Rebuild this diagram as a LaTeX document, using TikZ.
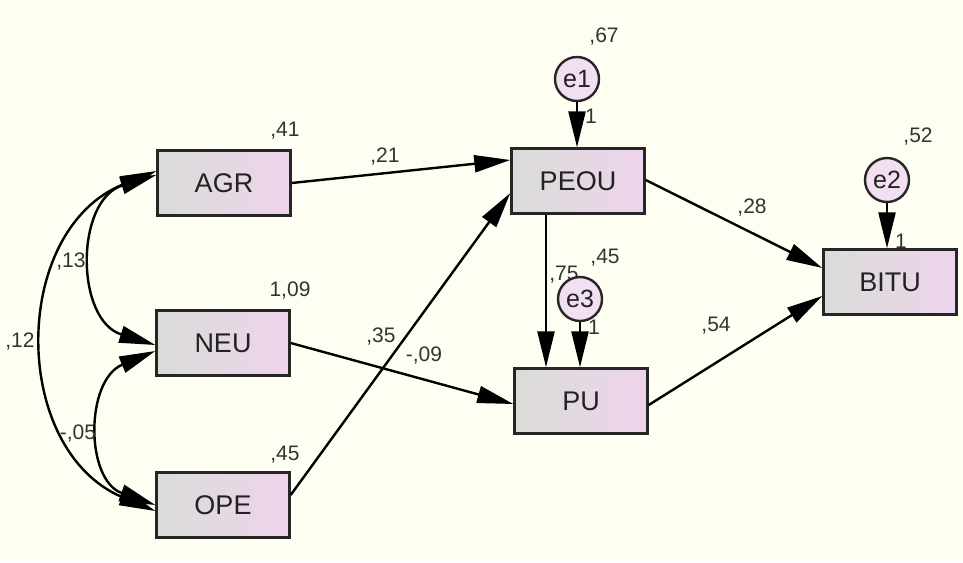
\documentclass[tikz,border=0pt]{standalone}
\usepackage{fontspec}
\setmainfont{Liberation Sans}
\usetikzlibrary{arrows.meta,calc}
\definecolor{bg}{HTML}{FEFEF2}
\definecolor{boxl}{HTML}{DADCD8}
\definecolor{boxr}{HTML}{EED4EC}
\definecolor{txt}{HTML}{222222}
\definecolor{lbl}{HTML}{333333}
\tikzset{
  var/.style={draw=black!85, line width=2.4pt, left color=boxl, right color=boxr, minimum width=133pt, minimum height=65pt, inner sep=0pt, font=\fontsize{27}{27}\selectfont, text=txt},
  err/.style={circle, draw=black!85, line width=2.4pt, fill=boxr!75!white, minimum size=44pt, inner sep=0pt, font=\fontsize{25}{25}\selectfont, text=txt},
  val/.style={font=\fontsize{21}{21}\selectfont, text=lbl, inner sep=0pt},
  path1/.style={line width=2.4pt, black, -{Triangle[length=36pt,width=17pt]}},
  cov/.style={line width=2.4pt, black, {Triangle[length=36pt,width=17pt]}-{Triangle[length=36pt,width=17pt]}}
}
\begin{document}
\begin{tikzpicture}[x=1pt,y=-1pt]
\fill[bg] (0,0) rectangle (963,562);
\useasboundingbox (0,0) rectangle (963,562);
% observed variables
\node[var] (AGR) at (224,183) {AGR};
\node[var] (NEU) at (223,343) {NEU};
\node[var] (OPE) at (223,505) {OPE};
\node[var] (PEOU) at (578,181) {PEOU};
\node[var] (PU) at (581,401) {PU};
\node[var] (BITU) at (890,282) {BITU};
% R2 label of PU, partly covered by e3
\node[val] (lPU) at (564,275) {,75};
% error terms
\node[err] (e1) at (577,79) {e1};
\node[err] (e2) at (887,180) {e2};
\node[err] (e3) at (580,299) {e3};
% regression paths
\draw[path1] (AGR.east) -- ($(PEOU.west)+(0,-21)$);
\draw[path1] (NEU.east) -- ($(PU.west)+(0,3)$);
\draw[path1] ($(OPE.east)+(0,-10)$) -- ($(PEOU.west)+(0,12)$);
\draw[path1] ($(PEOU.south)+(-32,0)$) -- ($(PU.north)+(-35,0)$);
\draw[path1] (e3) -- (e3 |- PU.north);
\draw[path1] (e1) -- (e1 |- PEOU.north);
\draw[path1] (e2) -- (e2 |- BITU.north);
\draw[path1] ($(PEOU.east)+(0,-1)$) -- ($(BITU.west)+(0,-14)$);
\draw[path1] ($(PU.east)+(0,4)$) -- ($(BITU.west)+(0,14)$);
% covariances
\draw[cov] ($(AGR.west)+(0,-8)$) .. controls (75,200) and (75,320) .. ($(NEU.west)+(0,2)$);
\draw[cov] ($(NEU.west)+(0,8)$) .. controls (85,380) and (85,480) .. (OPE.west);
\draw[cov] ($(AGR.west)+(0,-12)$) .. controls (10,230) and (10,450) .. ($(OPE.west)+(0,6)$);
% labels
\node[val] (lAGR) at (285,131) {,41};
\node[val] (lNEU) at (290,291) {1,09};
\node[val] (lOPE) at (285,455) {,45};
\node[val] (le1) at (604,37) {,67};
\node[val] (le2) at (918,137) {,52};
\node[val] (le3) at (605,258) {,45};
\node[val] (l21) at (385,157) {,21};
\node[val] (l35) at (381,337) {,35};
\node[val] (l09) at (424,356) {-,09};
\node[val] (l28) at (752,208) {,28};
\node[val] (l54) at (716,326) {,54};
\node[val] (l13) at (71,262) {,13};
\node[val] (l12) at (20,342) {,12};
\node[val] (l05) at (78,434) {-,05};
\node[val] (o1) at (591,116) {1};
\node[val] (o2) at (901,241) {1};
\node[val] (o3) at (594,327) {1};
\end{tikzpicture}
\end{document}
